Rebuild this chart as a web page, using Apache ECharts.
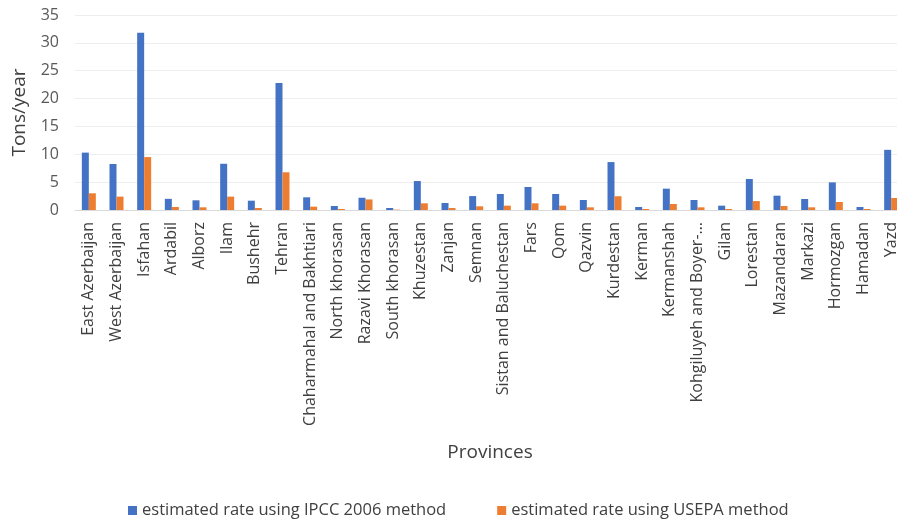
<!DOCTYPE html>
<html><head><meta charset="utf-8">
<script src="https://cdn.jsdelivr.net/npm/echarts@6/dist/echarts.min.js"></script>
<style>html,body{margin:0;padding:0;background:#fff}#c{width:897px;height:519px}</style>
</head><body><div id="c"></div>
<script>
const provinces = ["East Azerbaijan","West Azerbaijan","Isfahan","Ardabil","Alborz","Ilam","Bushehr","Tehran","Chaharmahal and Bakhtiari","North khorasan","Razavi Khorasan","South khorasan","Khuzestan","Zanjan","Semnan","Sistan and Baluchestan","Fars","Qom","Qazvin","Kurdestan","Kerman","Kermanshah","Kohgiluyeh and Boyer-…","Gilan","Lorestan","Mazandaran","Markazi","Hormozgan","Hamadan","Yazd"];
const ipcc = [10.3,8.26,31.8,2.0,1.74,8.3,1.67,22.8,2.28,0.72,2.2,0.36,5.2,1.26,2.5,2.87,4.13,2.87,1.8,8.6,0.54,3.83,1.8,0.78,5.56,2.57,1.97,4.96,0.54,10.8];
const usepa = [3.0,2.4,9.5,0.54,0.48,2.4,0.36,6.77,0.6,0.18,1.9,0.06,1.2,0.36,0.66,0.78,1.2,0.78,0.48,2.47,0.18,1.08,0.48,0.18,1.6,0.72,0.48,1.44,0.18,2.15];
const yTicks = [0,5,10,15,20,25,30,35];
const seriesNames = ["estimated rate using IPCC 2006 method","estimated rate using USEPA method"];

const font = "Open Sans";
const chart = echarts.init(document.getElementById('c'), null, {renderer:'canvas'});
chart.setOption({
  animation:false,
  textStyle:{fontFamily:font},
  grid:{left:75, top:15, width:830, height:195, outerBoundsMode:'none', containLabel:false},
  legend:{
    data:seriesNames, left:123, top:497, itemWidth:9, itemHeight:9, itemGap:51,
    icon:'rect', textStyle:{fontFamily:font, fontSize:16.5, color:'#404040'}
  },
  xAxis:{
    type:'category', data:provinces,
    name:'Provinces', nameLocation:'middle', nameGap:233,
    nameTextStyle:{fontFamily:font, fontSize:19, color:'#404040'},
    axisLine:{lineStyle:{color:'#d9d9d9', width:1}},
    axisTick:{show:false},
    axisLabel:{rotate:90, interval:0, fontFamily:font, fontSize:16, color:'#404040', margin:12}
  },
  yAxis:{
    type:'value', min:yTicks[0], max:yTicks[yTicks.length-1], interval:5,
    name:'Tons/year', nameLocation:'middle', nameGap:46,
    nameTextStyle:{fontFamily:font, fontSize:19, color:'#404040'},
    axisLine:{show:false}, axisTick:{show:false},
    axisLabel:{fontFamily:font, fontSize:16, color:'#595959', margin:16},
    splitLine:{lineStyle:{color:'#eeeeee', width:1}}
  },
  series:[
    {name:seriesNames[0], type:'bar', data:ipcc, barWidth:7, barGap:'0%', itemStyle:{color:'#4472c4'}},
    {name:seriesNames[1], type:'bar', data:usepa, barWidth:7, barGap:'0%', itemStyle:{color:'#ed7d31'}}
  ]
});
</script></body></html>
